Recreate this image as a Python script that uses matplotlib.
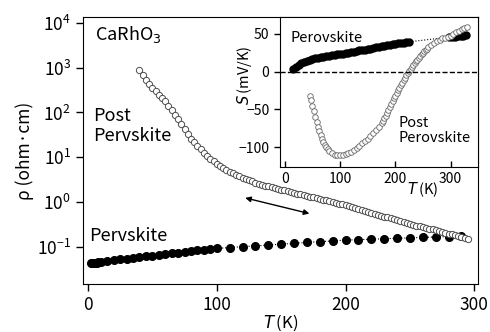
import matplotlib
matplotlib.use("Agg")
import matplotlib.pyplot as plt
from matplotlib.ticker import LogLocator, NullLocator

plt.rcParams['font.family'] = ['Noto Sans CJK JP', 'DejaVu Sans']

# resistivity, perovskite phase
T_pv = [2, 3, 4, 5, 6, 7, 8, 10, 15, 20, 25, 30, 35, 40, 45, 50, 55, 60, 65, 70,
        75, 80, 85, 90, 95, 100, 110, 120, 130, 140, 150, 160, 170, 180, 190,
        200, 210, 220, 230, 240, 250, 260, 270, 280, 290]
rho_pv = [0.044, 0.044, 0.0445, 0.0445, 0.045, 0.045, 0.0455, 0.046, 0.0493,
          0.0513, 0.0532, 0.0552, 0.0574, 0.0596, 0.0619, 0.0643, 0.0668,
          0.0693, 0.072, 0.0748, 0.0777, 0.0807, 0.0839, 0.0871, 0.0905,
          0.0933, 0.0975, 0.102, 0.106, 0.111, 0.116, 0.121, 0.127, 0.132,
          0.137, 0.143, 0.146, 0.150, 0.153, 0.157, 0.160, 0.164, 0.168,
          0.171, 0.175]

# resistivity, post-perovskite phase
T_ppv = [40, 42.5, 45, 47.5, 50, 52.5, 55, 57.5, 60, 62.5, 65, 67.5, 70, 72.5,
         75, 77.5, 80, 82.5, 85, 87.5, 90, 92.5, 95, 97.5, 100, 102.5, 105,
         107.5, 110, 112.5, 115, 117.5, 120, 122.5, 125, 127.5, 130, 132.5,
         135, 137.5, 140, 142.5, 145, 147.5, 150, 152.5, 155, 157.5, 160,
         162.5, 165, 167.5, 170, 172.5, 175, 177.5, 180, 182.5, 185, 187.5,
         190, 192.5, 195, 197.5, 200, 202.5, 205, 207.5, 210, 212.5, 215,
         217.5, 220, 222.5, 225, 227.5, 230, 232.5, 235, 237.5, 240, 242.5,
         245, 247.5, 250, 252.5, 255, 257.5, 260, 262.5, 265, 267.5, 270,
         272.5, 275, 277.5, 280, 282.5, 285, 287.5, 290, 292.5, 295]
rho_ppv = [900, 680, 525, 430, 355, 300, 251, 212, 178, 142, 112, 89, 70.8, 55,
           42.7, 33.5, 26.3, 21.6, 17.8, 15, 12.6, 10.8, 9.33, 8.2, 7.24, 6.45,
           5.75, 5.25, 4.79, 4.4, 4.07, 3.8, 3.55, 3.31, 3.09, 2.91, 2.75, 2.6,
           2.45, 2.34, 2.24, 2.16, 2.09, 2.0, 1.91, 1.84, 1.78, 1.7, 1.62,
           1.56, 1.51, 1.44, 1.38, 1.33, 1.29, 1.23, 1.17, 1.13, 1.10, 1.05,
           1.00, 0.966, 0.933, 0.89, 0.851, 0.81, 0.776, 0.74, 0.708, 0.676,
           0.646, 0.61, 0.575, 0.55, 0.525, 0.50, 0.479, 0.457, 0.437, 0.417,
           0.398, 0.38, 0.363, 0.346, 0.331, 0.316, 0.302, 0.292, 0.282,
           0.269, 0.257, 0.248, 0.240, 0.229, 0.219, 0.209, 0.200, 0.191,
           0.182, 0.174, 0.166, 0.158, 0.151]

# thermopower (inset), perovskite
Ts_pv = [15, 20, 25, 30, 35, 40, 45, 50, 55, 60, 65, 70, 75, 80, 85, 90, 95,
         100, 105, 110, 115, 120, 125, 130, 135, 140, 145, 150, 155, 160, 165,
         170, 175, 180, 185, 190, 195, 200, 205, 210, 215, 220, 225,
         298, 303, 308, 313, 318, 323, 328]
S_pv = [3.5, 6.5, 9, 11.5, 13, 14.5, 16, 17, 18, 18.5, 19.2, 20, 20.5, 21,
        21.6, 22.2, 22.8, 23.5, 24, 24.7, 25.3, 26, 26.6, 27.3, 28, 28.7, 29.3,
        30, 30.6, 31.3, 32, 32.7, 33.4, 34, 34.7, 35.4, 36, 36.7, 37.3, 38,
        38.5, 39, 39.5, 45.8, 46, 46.3, 46.7, 47, 47.5, 48]

# thermopower (inset), post-perovskite
Ts_ppv = [45, 47.5, 50, 52.5, 55, 57.5, 60, 62.5, 65, 67.5, 70, 72.5, 75, 77.5,
          80, 85, 90, 95, 100, 105, 110, 115, 120, 125, 130, 135, 140, 145,
          150, 155, 160, 165, 170, 175, 177.5, 180, 182.5, 185, 187.5, 190,
          192.5, 195, 197.5, 200, 202.5, 205, 207.5, 210, 212.5, 215, 217.5,
          220, 222.5, 225, 227.5, 230, 232.5, 235, 237.5, 240, 242.5, 245,
          247.5, 250, 252.5, 255, 257.5, 260, 265, 270, 275, 280, 285, 290,
          295, 300, 305, 310, 315, 320, 325, 330]
S_ppv = [-32, -38, -45, -52, -60, -67, -74, -79, -84, -89, -93, -97, -100,
         -103, -105, -108, -110, -111, -111, -110, -109, -107.5, -106, -104,
         -101, -98, -95, -92, -89, -86, -82, -78, -73, -68, -65, -62, -58.5,
         -55, -51, -47, -43, -39, -35.5, -32, -28.5, -25, -21.5, -18, -14.5,
         -11, -8, -5, -2, 1, 3.5, 6, 8.5, 11, 13.5, 16, 18.5, 21, 23, 25, 27,
         29, 30.5, 32, 35, 38, 40, 42, 44, 45, 46, 47.5, 49.5, 52, 54, 56,
         57.5, 58.5]

fig = plt.figure(figsize=(4.9, 3.32), dpi=100)
ax = fig.add_axes([0.169, 0.145, 0.807, 0.804])

ax.plot(T_pv, rho_pv, 'o:', color='black', ms=5.5, lw=0.8)
ax.plot(T_ppv, rho_ppv, 'o', mfc='white', mec='0.3', mew=0.7, ms=4.5)
ax.set_yscale('log')
ax.set_xlim(-4, 303)
ax.set_ylim(10**-1.82, 10**4.13)
ax.set_xticks([0, 100, 200, 300])
ax.yaxis.set_major_locator(LogLocator(base=10, numticks=10))
ax.yaxis.set_minor_locator(NullLocator())
ax.tick_params(labelsize=12.5, direction='out', length=5, width=1)
ax.set_xlabel(r'$T\,$(K)', fontsize=12, labelpad=-1)
ax.set_ylabel('ρ (ohm·cm)', fontsize=12.5, labelpad=2)

ax.text(0.03, 0.975, 'CaRhO$_3$', transform=ax.transAxes, fontsize=13, va='top')
ax.text(4, 50, 'Post\nPervskite', fontsize=13, va='center', linespacing=1.1)
ax.text(1, 0.11, 'Pervskite', fontsize=13, va='bottom')
ax.annotate('', xy=(174, 0.54), xytext=(120, 1.29),
            arrowprops=dict(arrowstyle='<|-|>', color='black', lw=1,
                            mutation_scale=8))

# inset
ins = fig.add_axes([0.571, 0.497, 0.405, 0.452])
ins.plot(Ts_pv, S_pv, 'o:', color='black', ms=5, lw=0.8)
ins.plot(Ts_ppv, S_ppv, 'o', mfc='white', mec='0.4', mew=0.6, ms=4)
ins.axhline(0, color='black', ls='--', lw=1)
ins.set_xlim(-9, 350)
ins.set_ylim(-126.5, 72.5)
ins.set_xticks([0, 100, 200, 300])
ins.set_yticks([-100, -50, 0, 50])
ins.tick_params(axis='x', labelsize=10, direction='in', length=4, width=1)
ins.tick_params(axis='y', labelsize=10, direction='out', length=4, width=1)
ins.set_xlabel(r'$T\,$(K)', fontsize=10.5)
ins.xaxis.set_label_coords(0.72, -0.09)
ins.set_ylabel(r'$S\,$(mV/K)', fontsize=10.5)
ins.yaxis.set_label_coords(-0.13, 0.61)
ins.text(10, 45, 'Perovskite', fontsize=10.5, va='center')
ins.text(205, -78, 'Post\nPerovskite', fontsize=10.5, va='center',
         linespacing=1.1)

fig.savefig('out.png', dpi=100)
